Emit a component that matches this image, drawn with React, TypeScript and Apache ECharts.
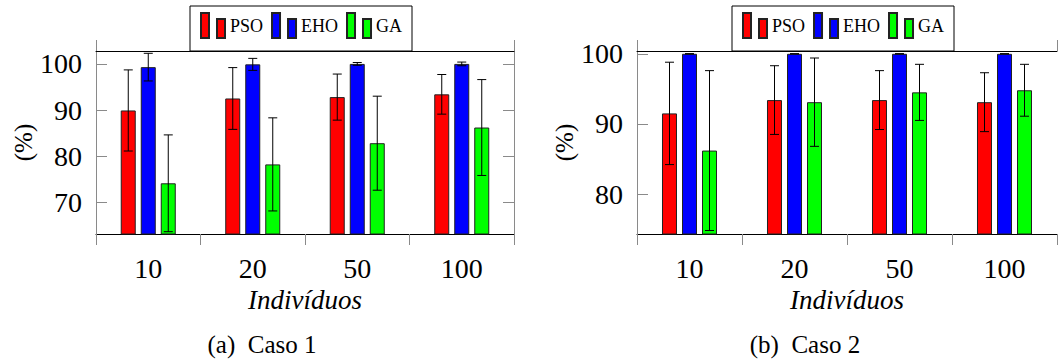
import React, { useEffect, useRef } from "react";
import * as echarts from "echarts";

const categories = ["10", "20", "50", "100"];
const seriesNames = ["PSO", "EHO", "GA"];
const seriesColors = ["#ff0000", "#0000ff", "#00ff00"];

// Caso 1 (means and error half-widths, %)
const caso1PSO = [89.9, 92.5, 92.8, 93.4];
const caso1PSOErr = [8.8, 6.7, 5.0, 4.3];
const caso1EHO = [99.3, 99.9, 100.0, 100.0];
const caso1EHOErr = [3.0, 1.3, 0.3, 0.4];
const caso1GA = [74.1, 78.2, 82.8, 86.2];
const caso1GAErr = [10.5, 10.1, 10.2, 10.4];

// Caso 2
const caso2PSO = [91.5, 93.4, 93.4, 93.1];
const caso2PSOErr = [7.3, 4.9, 4.2, 4.2];
const caso2EHO = [100, 100, 100, 100];
const caso2EHOErr = [0, 0, 0, 0];
const caso2GA = [86.2, 93.1, 94.5, 94.8];
const caso2GAErr = [11.4, 6.3, 4.0, 3.7];

const yTicks1 = [70, 80, 90, 100];
const yTicks2 = [80, 90, 100];
const yRange1 = [63.1, 102.8];
const yRange2 = [74.3, 100.4];
const xAxisTitle = "Indivíduos";
const yAxisTitle = "(%)";
const captions = ["(a)  Caso 1", "(b)  Caso 2"];

const FONT = "Liberation Serif";
const GRAY = "#8a8a8a";

export default function App() {
  const ref = useRef<HTMLDivElement>(null);

  useEffect(() => {
    if (!ref.current) return;
    const chart = echarts.init(ref.current, undefined, { renderer: "svg" });

    const panels = [
      {
        left: 96, width: 418, ticks: yTicks1, range: yRange1,
        values: [caso1PSO, caso1EHO, caso1GA],
        errs: [caso1PSOErr, caso1EHOErr, caso1GAErr],
        legendLeft: 190, showRight: true,
      },
      {
        left: 637, width: 420, ticks: yTicks2, range: yRange2,
        values: [caso2PSO, caso2EHO, caso2GA],
        errs: [caso2PSOErr, caso2EHOErr, caso2GAErr],
        legendLeft: 732, showRight: false,
      },
    ];

    const grid: any[] = [];
    const xAxis: any[] = [];
    const yAxis: any[] = [];
    const series: any[] = [];
    const legend: any[] = [];

    panels.forEach((p, g) => {
      grid.push({ left: p.left, top: 51, width: p.width, height: 183 });
      xAxis.push({
        type: "category", gridIndex: g, position: "bottom", data: categories,
        axisLine: { show: true, lineStyle: { color: "#000", width: 1 } },
        axisTick: { show: true, length: 11, inside: false, lineStyle: { color: GRAY } },
        axisLabel: { fontFamily: FONT, fontSize: 28, color: "#000", margin: 20 },
        name: xAxisTitle, nameLocation: "middle", nameGap: 48,
        nameTextStyle: { fontFamily: FONT, fontSize: 27, fontStyle: "italic", color: "#000" },
      });
      xAxis.push({
        type: "category", gridIndex: g, position: "top", data: categories,
        axisLine: { show: true, lineStyle: { color: "#000", width: 1 } },
        axisTick: { show: true, length: 11, inside: false, lineStyle: { color: GRAY } },
        axisLabel: { show: false },
      });
      yAxis.push({
        type: "value", gridIndex: g, position: "left", min: p.range[0], max: p.range[1],
        splitLine: { show: false },
        axisLine: { show: true, lineStyle: { color: GRAY, width: 1 } },
        axisTick: { show: true, inside: true, length: 11, customValues: p.ticks, lineStyle: { color: GRAY } },
        axisLabel: { fontFamily: FONT, fontSize: 28, color: "#000", margin: 14, customValues: p.ticks, padding: [4, 0, 0, 0] },
        name: yAxisTitle, nameLocation: "middle", nameGap: 58,
        nameTextStyle: { fontFamily: FONT, fontSize: 25, color: "#000" },
      });
      yAxis.push({
        type: "value", gridIndex: g, position: "right", min: p.range[0], max: p.range[1],
        splitLine: { show: false },
        axisLine: { show: p.showRight, lineStyle: { color: GRAY, width: 1 } },
        axisTick: { show: p.showRight, inside: true, length: 11, customValues: p.ticks, lineStyle: { color: GRAY } },
        axisLabel: { show: false },
      });

      seriesNames.forEach((name, s) => {
        series.push({
          type: "bar", name, xAxisIndex: 2 * g, yAxisIndex: 2 * g,
          data: p.values[s], barWidth: 15, barGap: "33.34%",
          itemStyle: { color: seriesColors[s], borderColor: "#222", borderWidth: 1 },
          z: 2,
        });
      });
      seriesNames.forEach((name, s) => {
        const offset = (s - 1) * 20;
        series.push({
          type: "custom", name: name + "-err", xAxisIndex: 2 * g, yAxisIndex: 2 * g,
          data: p.values[s].map((v, i) => [i, v, p.errs[s][i]]),
          encode: { x: 0, y: 1 },
          z: 5, silent: true, clip: false,
          renderItem: (params: any, api: any) => {
            const i = api.value(0);
            const v = api.value(1);
            const e = api.value(2);
            const hi = api.coord([i, v + e]);
            const lo = api.coord([i, v - e]);
            const x = hi[0] + offset;
            const cap = 4.5;
            const st = { stroke: "#000", lineWidth: 1 };
            return {
              type: "group",
              children: [
                { type: "line", shape: { x1: x, y1: hi[1], x2: x, y2: lo[1] }, style: st },
                { type: "line", shape: { x1: x - cap, y1: hi[1], x2: x + cap, y2: hi[1] }, style: st },
                { type: "line", shape: { x1: x - cap, y1: lo[1], x2: x + cap, y2: lo[1] }, style: st },
              ],
            };
          },
        });
      });

      legend.push({
        data: seriesNames, left: p.legendLeft, top: 6, orient: "horizontal",
        itemWidth: 24, itemHeight: 25, itemGap: 8,
        icon: "path://M0,0 L8,0 L8,25 L0,25 Z M16,6 L24,6 L24,25 L16,25 Z",
        padding: [6, 10, 12, 10],
        borderColor: "#000", borderWidth: 1, backgroundColor: "#fff",
        textStyle: { fontFamily: FONT, fontSize: 18, color: "#000", padding: [6, 0, 0, 0] },
        selectedMode: false,
      });
    });

    chart.setOption({
      animation: false,
      backgroundColor: "#fff",
      grid, xAxis, yAxis, series, legend,
      graphic: [
        {
          type: "text", x: 262, y: 344,
          style: { text: captions[0], fontFamily: FONT, fontSize: 25, fill: "#000", align: "center", verticalAlign: "middle" },
        },
        {
          type: "text", x: 805, y: 344,
          style: { text: captions[1], fontFamily: FONT, fontSize: 25, fill: "#000", align: "center", verticalAlign: "middle" },
        },
      ],
    });

    return () => chart.dispose();
  }, []);

  return <div ref={ref} style={{ position: "absolute", left: 0, top: 0, width: 1059, height: 360 }} />;
}
